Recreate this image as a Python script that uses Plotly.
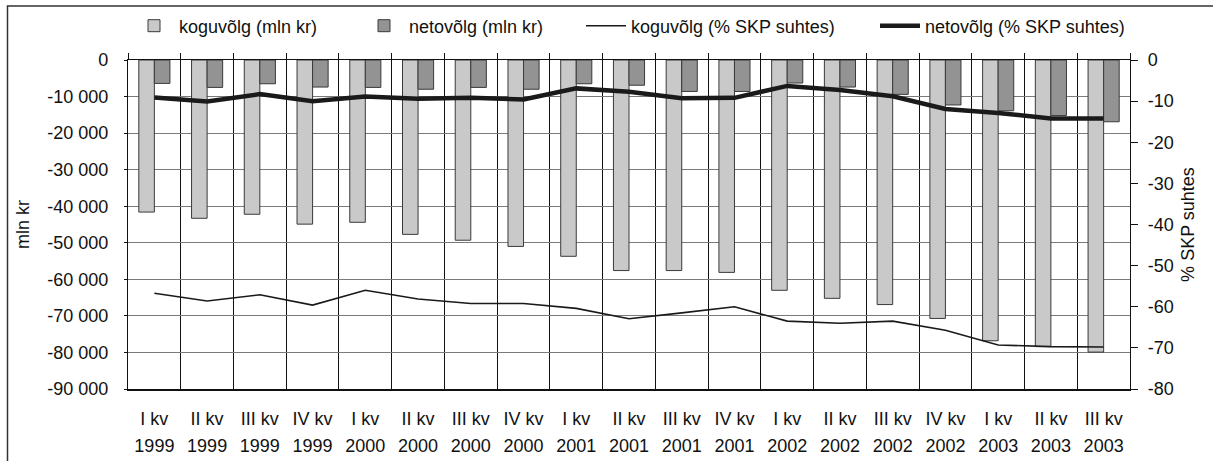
import plotly.graph_objects as go

quarters = ["I kv", "II kv", "III kv", "IV kv", "I kv", "II kv", "III kv", "IV kv",
            "I kv", "II kv", "III kv", "IV kv", "I kv", "II kv", "III kv", "IV kv",
            "I kv", "II kv", "III kv"]
years = ["1999", "1999", "1999", "1999", "2000", "2000", "2000", "2000",
         "2001", "2001", "2001", "2001", "2002", "2002", "2002", "2002",
         "2003", "2003", "2003"]
categories = [q + " " + y for q, y in zip(quarters, years)]

kogu_mln = [-41600, -43300, -42200, -44900, -44400, -47700, -49300, -51000, -53700,
            -57600, -57600, -58100, -63000, -65200, -66900, -70700, -76800, -78400, -79900]
neto_mln = [-6400, -7500, -6500, -7400, -7500, -8000, -7500, -8000, -6500,
            -6900, -8600, -8600, -6300, -7400, -9400, -12300, -13900, -15200, -16900]
kogu_pct = [-56.7, -58.6, -57.1, -59.6, -56.0, -58.1, -59.2, -59.2, -60.4,
            -62.9, -61.5, -60.0, -63.5, -64.0, -63.5, -65.7, -69.3, -69.7, -69.8]
neto_pct = [-9.1, -10.1, -8.3, -10.0, -8.9, -9.4, -9.2, -9.6, -6.9,
            -7.7, -9.3, -9.2, -6.3, -7.3, -8.8, -11.9, -12.9, -14.2, -14.2]

left_tickvals = [0, -10000, -20000, -30000, -40000, -50000, -60000, -70000, -80000, -90000]
left_ticktext = ["0", "-10 000", "-20 000", "-30 000", "-40 000", "-50 000",
                 "-60 000", "-70 000", "-80 000", "-90 000"]
right_tickvals = [0, -10, -20, -30, -40, -50, -60, -70, -80]
right_ticktext = ["0", "-10", "-20", "-30", "-40", "-50", "-60", "-70", "-80"]

names = ["koguvõlg (mln kr)", "netovõlg (mln kr)",
         "koguvõlg (% SKP suhtes)", "netovõlg (% SKP suhtes)"]

FONT = "Liberation Sans, Arial, sans-serif"
W, H = 1213, 461
L, R, T, B = 128, 83, 60, 72
PW, PH = W - L - R, H - T - B

fig = go.Figure()
fig.add_trace(go.Bar(x=categories, y=kogu_mln, name=names[0], legend="legend",
                     marker=dict(color="#c9c9c9", line=dict(color="#3a3a3a", width=1))))
fig.add_trace(go.Bar(x=categories, y=neto_mln, name=names[1], legend="legend2",
                     marker=dict(color="#939393", line=dict(color="#3a3a3a", width=1))))
fig.add_trace(go.Scatter(x=categories, y=kogu_pct, name=names[2], yaxis="y2", legend="legend3",
                         mode="lines", line=dict(color="#1a1a1a", width=1.6)))
fig.add_trace(go.Scatter(x=categories, y=neto_pct, name=names[3], yaxis="y2", legend="legend4",
                         mode="lines", line=dict(color="#1a1a1a", width=4.5)))
# helper traces for the two label rows of the category axis
idx = list(range(len(categories)))
fig.add_trace(go.Scatter(x=idx, y=[None] * len(idx), xaxis="x3", showlegend=False,
                         hoverinfo="skip", mode="lines"))
fig.add_trace(go.Scatter(x=idx, y=[None] * len(idx), xaxis="x4", showlegend=False,
                         hoverinfo="skip", mode="lines"))


def px2x(p):
    return (p - L) / PW


def px2y(p):
    return (H - B - p) / PH


legend_common = dict(orientation="h", xanchor="left", yanchor="middle",
                     font=dict(family=FONT, size=18, color="#111"),
                     bgcolor="rgba(0,0,0,0)", itemwidth=40, tracegroupgap=0)
legend_x_text = [175, 405, 627, 921]
fig.update_layout(
    legend=dict(x=px2x(legend_x_text[0] - 46), y=px2y(26), **legend_common),
    legend2=dict(x=px2x(legend_x_text[1] - 46), y=px2y(26), **legend_common),
    legend3=dict(x=px2x(legend_x_text[2] - 46), y=px2y(26), **legend_common),
    legend4=dict(x=px2x(legend_x_text[3] - 46), y=px2y(26), **legend_common),
)

fig.update_layout(
    width=W, height=H,
    margin=dict(l=L, r=R, t=T, b=B, autoexpand=False),
    paper_bgcolor="white", plot_bgcolor="white",
    barmode="group", bargap=0.41, bargroupgap=0,
    font=dict(family=FONT, size=18, color="#111"),
    xaxis=dict(type="category", categoryarray=categories, side="top",
               showticklabels=False, ticks="outside", ticklen=6, tickcolor="#111",
               tickson="boundaries", showgrid=True, gridcolor="#111", gridwidth=1,
               showline=True, linecolor="#111", linewidth=1.2,
               range=[-0.5, len(categories) - 0.5], automargin=False),
    xaxis3=dict(overlaying="x", anchor="y", side="bottom", range=[-0.5, len(categories) - 0.5],
                tickmode="array", tickvals=idx, ticktext=quarters, ticks="",
                showgrid=False, zeroline=False, showline=True, linecolor="#111", linewidth=2,
                ticklabelstandoff=12, automargin=False),
    xaxis4=dict(overlaying="x", anchor="y", side="bottom", range=[-0.5, len(categories) - 0.5],
                tickmode="array", tickvals=idx, ticktext=years, ticks="",
                showgrid=False, zeroline=False, showline=False,
                ticklabelstandoff=44, automargin=False),
    yaxis=dict(range=[-90000, 0], tickmode="array", tickvals=left_tickvals,
               ticktext=left_ticktext,
               showgrid=True, gridcolor="#7a7a7a", gridwidth=1, zeroline=False,
               ticks="outside", ticklen=3, tickcolor="#111", ticklabelstandoff=12,
               showline=True, linecolor="#111", linewidth=1.2,
               title=dict(text="mln kr", standoff=12, font=dict(size=18)), automargin=False),
    yaxis2=dict(range=[-80, 0], tickmode="array", tickvals=right_tickvals,
                ticktext=right_ticktext, overlaying="y", side="right",
                showgrid=False, zeroline=False,
                ticks="outside", ticklen=7, tickcolor="#111", ticklabelstandoff=6,
                showline=True, linecolor="#111", linewidth=1.2,
                title=dict(text="% SKP suhtes", standoff=8, font=dict(size=18)), automargin=False),
    shapes=[dict(type="rect", xref="paper", yref="paper",
                 x0=px2x(7.5), x1=px2x(W + 10), y0=px2y(6), y1=px2y(H + 10),
                 line=dict(color="#333", width=1.5), fillcolor="rgba(0,0,0,0)", layer="above")],
)

fig.write_html("out.html", config={"displayModeBar": False},
               post_script="document.body.style.margin='0';")
